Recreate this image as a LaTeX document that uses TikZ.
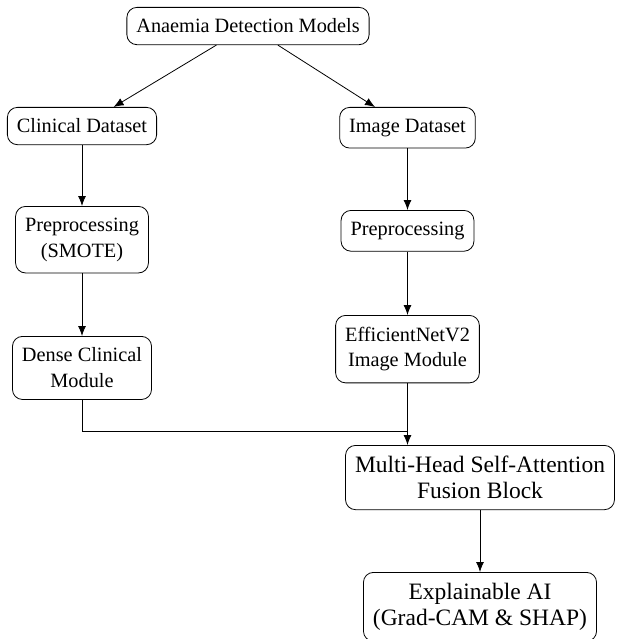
\documentclass[tikz,border=0pt]{standalone}
\usepackage{fontspec}
\setmainfont{Liberation Serif}
\usetikzlibrary{arrows.meta}
\tikzset{
  box/.style={draw, line width=0.8pt, rounded corners=10pt, align=center,
    inner xsep=9.5pt, inner ysep=11.5pt, anchor=north,
    font=\fontsize{20.3}{25.8}\selectfont},
  bigbox/.style={box, font=\fontsize{23.5}{26.5}\selectfont, inner ysep=10.5pt},
  arr/.style={line width=0.8pt, -{Latex[length=10pt,width=8pt]}},
  ln/.style={line width=0.8pt}
}
\begin{document}
\begin{tikzpicture}[x=1pt,y=-1pt]
\useasboundingbox (0,0) rectangle (617,639);
\node[box] (top) at (248,7) {Anaemia Detection Models};
\node[box] (clin) at (82,107) {Clinical Dataset};
\node[box] (img) at (407.5,107) {Image Dataset};
\node[box] (pre1) at (82,206) {Preprocessing\\(SMOTE)};
\node[box] (pre2) at (407.5,210) {Preprocessing};
\node[box] (dense) at (82,336) {Dense Clinical\\Module};
\node[box] (eff) at (407.5,315) {EfficientNetV2\\Image Module};
\node[bigbox] (fus) at (480,445) {Multi-Head Self-Attention\\Fusion Block};
\node[bigbox] (expl) at (480,572) {Explainable AI\\(Grad-CAM \& SHAP)};
\coordinate (j) at (407.5,431);

\draw[arr] (top) -- (clin);
\draw[arr] (top) -- (img);
\draw[arr] (clin) -- (pre1);
\draw[arr] (img) -- (pre2);
\draw[arr] (pre1) -- (dense);
\draw[arr] (pre2) -- (eff);
\draw[ln] (dense.south) |- (j);
\draw[arr] (eff.south) -- (eff.south |- fus.north);
\draw[arr] (fus) -- (expl);
\end{tikzpicture}
\end{document}
